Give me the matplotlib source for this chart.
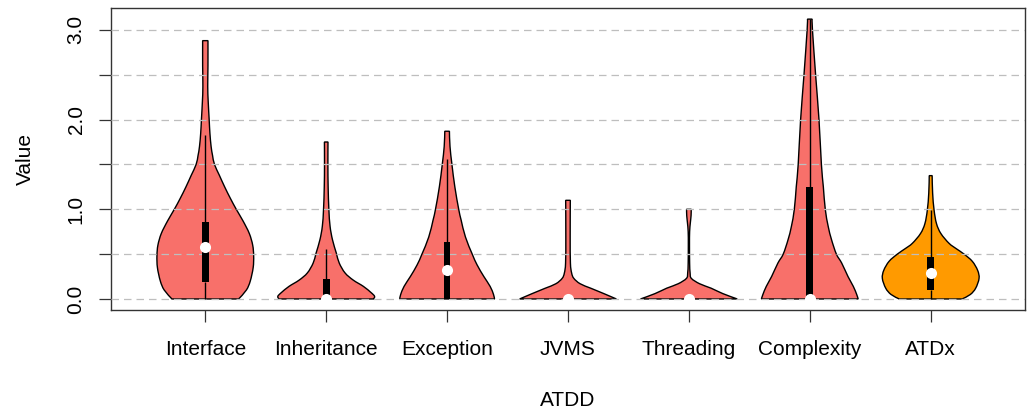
import numpy as np
import matplotlib
matplotlib.use("Agg")
import matplotlib.pyplot as plt
from matplotlib.path import Path
from matplotlib.patches import PathPatch, Rectangle

plt.rcParams['font.family'] = ['Liberation Sans', 'DejaVu Sans']

categories = ["Interface", "Inheritance", "Exception", "JVMS", "Threading", "Complexity", "ATDx"]
fill_colors = ["#F8706A", "#F8706A", "#F8706A", "#F8706A", "#F8706A", "#F8706A", "#FF9A00"]

# density profiles: value levels and relative density (max = 1)
interface_y = [0, 0.1, 0.2, 0.35, 0.48, 0.6, 0.73, 0.87, 1.0, 1.12, 1.25, 1.38, 1.5, 1.6, 1.7, 1.85, 2.0, 2.2, 2.37, 2.6, 2.88]
interface_d = [0.69, 0.85, 0.93, 0.99, 1.0, 0.98, 0.91, 0.78, 0.64, 0.52, 0.40, 0.29, 0.19, 0.15, 0.12, 0.095, 0.08, 0.06, 0.05, 0.055, 0.055]

inheritance_y = [0, 0.03, 0.07, 0.14, 0.21, 0.29, 0.4, 0.51, 0.66, 0.81, 1.0, 1.25, 1.5, 1.75]
inheritance_d = [0.98, 1.0, 0.93, 0.77, 0.56, 0.39, 0.27, 0.21, 0.13, 0.08, 0.055, 0.04, 0.035, 0.037]

exception_y = [0, 0.05, 0.14, 0.25, 0.38, 0.5, 0.69, 0.88, 1.0, 1.25, 1.5, 1.7, 1.87]
exception_d = [0.98, 0.96, 0.89, 0.76, 0.62, 0.52, 0.38, 0.29, 0.24, 0.16, 0.10, 0.06, 0.048]

jvms_y = [0, 0.06, 0.12, 0.17, 0.23, 0.29, 0.4, 0.7, 1.1]
jvms_d = [1.0, 0.74, 0.47, 0.25, 0.12, 0.075, 0.05, 0.045, 0.048]

threading_y = [0, 0.06, 0.12, 0.17, 0.23, 0.29, 0.4, 0.6, 0.75, 0.85, 0.93, 1.0]
threading_d = [1.0, 0.70, 0.46, 0.22, 0.05, 0.025, 0.015, 0.012, 0.015, 0.03, 0.045, 0.048]

complexity_y = [0, 0.05, 0.14, 0.25, 0.4, 0.5, 0.66, 0.81, 1.0, 1.25, 1.5, 2.0, 2.5, 3.0, 3.12]
complexity_d = [1.0, 0.97, 0.90, 0.79, 0.66, 0.55, 0.45, 0.38, 0.32, 0.28, 0.24, 0.19, 0.12, 0.055, 0.048]

atdx_y = [0, 0.05, 0.12, 0.23, 0.32, 0.42, 0.5, 0.56, 0.62, 0.73, 0.84, 0.99, 1.18, 1.375]
atdx_d = [0.65, 0.82, 0.93, 1.0, 0.97, 0.86, 0.69, 0.53, 0.38, 0.21, 0.12, 0.07, 0.04, 0.03]

profiles_y = [interface_y, inheritance_y, exception_y, jvms_y, threading_y, complexity_y, atdx_y]
profiles_d = [interface_d, inheritance_d, exception_d, jvms_d, threading_d, complexity_d, atdx_d]

lower_whisker = [0, 0, 0, 0, 0, 0, 0]
q1 = [0.19, 0, 0, 0, 0, 0, 0.10]
medians = [0.58, 0, 0.32, 0, 0, 0, 0.29]
q3 = [0.855, 0.22, 0.63, 0, 0, 1.25, 0.47]
upper_whisker = [1.83, 0.56, 1.56, 0, 0, 3.12, 0.99]

y_ticks = [0, 0.5, 1.0, 1.5, 2.0, 2.5, 3.0]
y_tick_labels = ["0.0", "", "1.0", "", "2.0", "", "3.0"]

HALF_WIDTH = 0.40
BOX_WIDTH = 0.055


def bezier_through(pts):
    """Catmull-Rom spline through pts, as cubic Bezier vertices (without the first point)."""
    pts = np.asarray(pts, dtype=float)
    n = len(pts)
    verts = []
    for i in range(n - 1):
        p0 = pts[i - 1] if i > 0 else pts[i]
        p1 = pts[i]
        p2 = pts[i + 1]
        p3 = pts[i + 2] if i + 2 < n else pts[i + 1]
        c1 = p1 + (p2 - p0) / 6.0
        c2 = p2 - (p3 - p1) / 6.0
        verts.extend([c1, c2, p2])
    return verts


def violin_path(center, ys, ds):
    ys = np.asarray(ys, float)
    ds = np.asarray(ds, float) * HALF_WIDTH
    right = np.column_stack([center + ds, ys])
    left = np.column_stack([center - ds, ys])[::-1]
    verts = [right[0]]
    codes = [Path.MOVETO]
    rv = bezier_through(right)
    verts += rv
    codes += [Path.CURVE4] * len(rv)
    verts.append(left[0])
    codes.append(Path.LINETO)
    lv = bezier_through(left)
    verts += lv
    codes += [Path.CURVE4] * len(lv)
    verts.append(right[0])
    codes.append(Path.CLOSEPOLY)
    return Path(verts, codes)


fig = plt.figure(figsize=(10.36, 4.13), dpi=100)
ax = fig.add_axes([111 / 1036, 1 - 310 / 413, 914 / 1036, 302 / 413])

positions = np.arange(1, len(categories) + 1)

for i, pos in enumerate(positions):
    path = violin_path(pos, profiles_y[i], profiles_d[i])
    ax.add_patch(PathPatch(path, facecolor=fill_colors[i], edgecolor="black", lw=1.0, zorder=2))
    # whiskers
    ax.plot([pos, pos], [lower_whisker[i], q1[i]], color="black", lw=1.0, zorder=4, solid_capstyle="butt")
    ax.plot([pos, pos], [q3[i], upper_whisker[i]], color="black", lw=1.0, zorder=4, solid_capstyle="butt")
    # box
    if q3[i] > q1[i]:
        ax.add_patch(Rectangle((pos - BOX_WIDTH / 2, q1[i]), BOX_WIDTH, q3[i] - q1[i],
                               facecolor="black", edgecolor="none", zorder=4))
    ax.plot(pos, medians[i], "o", color="white", markersize=8, markeredgewidth=0, zorder=5)

for yv in y_ticks:
    ax.axhline(yv, color="#BEBEBE", lw=0.9, linestyle=(0, (6, 4)), zorder=3)

ax.set_xlim(0.22, 7.78)
ax.set_ylim(-0.123, 3.244)

ax.set_xticks(positions)
ax.set_xticklabels(categories, fontsize=15)
ax.set_yticks(y_ticks)
ax.set_yticklabels(y_tick_labels, fontsize=15, rotation=90, va="center")
ax.tick_params(axis="both", direction="out", length=8.8, width=0.9, color="#333333")
ax.tick_params(axis="x", pad=12.5)
ax.tick_params(axis="y", pad=9.5)

for s in ax.spines.values():
    s.set_linewidth(1.0)
    s.set_color("#333333")

ax.set_xlabel("ATDD", fontsize=15)
ax.set_ylabel("Value", fontsize=15)
ax.xaxis.set_label_coords(0.5, -0.268)
ax.yaxis.set_label_coords(-0.083, 0.5)

fig.savefig("out.png", dpi=100)
